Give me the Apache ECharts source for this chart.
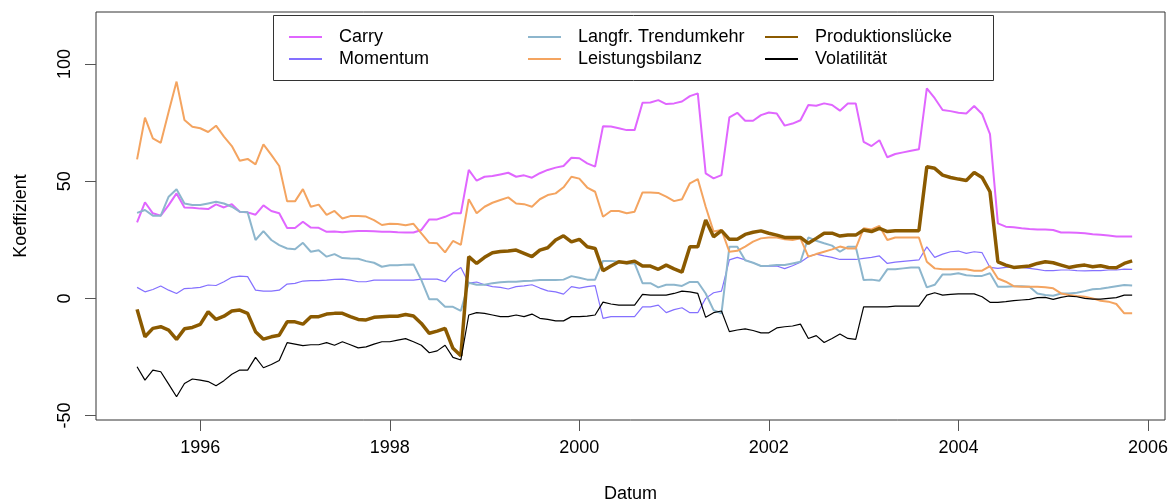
<!DOCTYPE html>
<html>
<head>
<meta charset="utf-8">
<script src="https://cdn.jsdelivr.net/npm/echarts@6/dist/echarts.min.js"></script>
<style>
  html, body { margin: 0; padding: 0; background: #fff; }
  #chart { width: 1168px; height: 504px; }
</style>
</head>
<body>
<div id="chart"></div>
<script>
// monthly series, May 1995 .. Nov 2005
var startYear = 1995, startMonth = 5;

var carry = [32.4, 41.0, 36.3, 35.3, 39.8, 44.8, 38.8, 38.7, 38.3, 38.1, 40.1, 38.8, 40.2, 37.0, 36.7, 35.7, 39.7, 37.3, 36.3, 30.0,
  30.0, 32.7, 30.2, 30.1, 28.4, 28.5, 28.2, 28.5, 28.8, 28.8, 28.6, 28.4, 28.4, 28.2, 28.1, 28.1, 29.2, 33.7, 33.7, 34.8,
  36.3, 36.3, 54.8, 50.2, 51.9, 52.2, 52.9, 53.6, 51.9, 52.5, 51.5, 53.4, 54.8, 55.8, 56.5, 60.0, 59.8, 57.6, 56.2, 73.5,
  73.3, 72.6, 71.8, 71.8, 83.5, 83.6, 84.6, 82.9, 83.2, 84.0, 86.3, 87.5, 53.3, 51.2, 52.6, 77.2, 79.2, 75.8, 75.8, 78.2,
  79.3, 78.9, 73.7, 74.6, 76.0, 82.5, 82.2, 83.2, 82.5, 80.1, 83.2, 83.2, 66.8, 65.0, 67.5, 60.2, 61.6, 62.3, 63.0, 63.6,
  89.6, 85.4, 80.4, 79.9, 79.2, 78.9, 82.1, 78.7, 70.1, 32.0, 30.6, 30.3, 29.9, 29.6, 29.4, 29.4, 29.2, 28.1, 28.1, 28.0,
  27.8, 27.4, 27.1, 26.8, 26.4, 26.4, 26.4];

var momentum = [4.7, 2.8, 3.8, 5.3, 3.5, 2.1, 4.2, 4.4, 4.7, 5.7, 5.5, 7.1, 9.0, 9.5, 9.3, 3.5, 3.1, 3.1, 3.5, 6.1,
  6.4, 7.4, 7.6, 7.6, 7.8, 8.1, 8.2, 7.8, 7.1, 7.1, 7.8, 7.8, 7.8, 7.8, 7.8, 7.8, 8.2, 8.2, 8.2, 7.1,
  10.9, 13.2, 6.5, 7.0, 5.8, 5.0, 4.7, 4.0, 5.0, 5.3, 5.8, 4.4, 3.2, 2.8, 1.8, 5.0, 4.4, 5.0, 5.4, -8.5,
  -7.8, -7.8, -7.8, -7.8, -3.6, -3.6, -2.9, -6.1, -4.8, -4.0, -6.1, -6.1, 0.0, 2.4, 3.1, 16.4, 17.5, 16.4, 15.2, 13.8,
  13.8, 13.8, 12.7, 13.9, 15.4, 17.8, 18.9, 18.1, 17.5, 16.6, 16.6, 16.6, 17.1, 17.5, 18.1, 14.9, 15.5, 15.8, 16.1, 16.4,
  22.0, 17.5, 18.9, 19.9, 20.2, 19.2, 19.9, 19.5, 13.2, 12.8, 13.2, 13.5, 13.2, 12.8, 12.4, 11.8, 11.8, 12.1, 12.1, 11.8,
  11.7, 11.8, 11.8, 12.1, 12.1, 12.5, 12.4];

var trendumkehr = [36.5, 37.7, 35.3, 35.3, 43.4, 46.6, 40.5, 39.8, 39.8, 40.5, 41.2, 40.5, 39.1, 37.0, 36.7, 24.9, 28.7, 24.9, 22.7, 21.3,
  21.0, 23.7, 19.9, 20.5, 17.8, 18.9, 17.2, 17.0, 16.9, 15.9, 15.2, 13.5, 14.1, 14.1, 14.4, 14.5, 7.8, -0.4, -0.4, -3.6,
  -3.6, -5.3, 6.7, 5.8, 5.8, 6.5, 6.9, 7.1, 7.1, 7.4, 7.5, 7.8, 7.8, 7.8, 8.0, 9.5, 8.8, 8.0, 8.0, 16.0,
  16.0, 15.6, 14.9, 14.9, 6.5, 6.5, 4.7, 5.8, 5.8, 5.3, 7.0, 7.0, 2.1, -5.0, -6.4, 22.0, 22.0, 16.3, 15.2, 13.8,
  13.9, 14.2, 14.2, 14.9, 15.6, 26.0, 24.6, 23.5, 22.5, 19.9, 22.0, 22.0, 7.8, 8.0, 7.5, 12.4, 12.4, 12.8, 13.2, 13.2,
  4.7, 5.8, 10.2, 10.2, 10.7, 9.9, 9.6, 9.6, 10.7, 5.0, 5.0, 5.2, 5.2, 5.0, 2.1, 1.4, 1.1, 2.1, 2.1, 2.4,
  3.1, 3.9, 4.1, 4.6, 5.2, 5.7, 5.5];

var leistungsbilanz = [59.3, 77.1, 68.3, 66.4, 79.6, 92.5, 76.1, 73.2, 72.6, 71.0, 73.7, 69.0, 65.0, 58.7, 59.5, 57.2, 65.7, 61.2, 56.5, 41.4,
  41.4, 46.6, 39.1, 40.0, 35.6, 37.3, 34.1, 35.1, 35.2, 34.9, 33.4, 31.3, 31.8, 31.7, 31.2, 31.8, 27.7, 23.7, 23.5, 19.6,
  24.5, 22.8, 42.3, 36.3, 39.1, 40.8, 42.0, 43.1, 40.5, 40.2, 39.1, 42.3, 44.1, 44.8, 47.4, 51.9, 51.1, 47.3, 45.5, 34.8,
  37.3, 37.3, 36.3, 37.0, 45.2, 45.2, 45.0, 43.4, 41.5, 42.3, 49.1, 50.9, 39.1, 28.5, 29.2, 19.9, 20.3, 22.1, 24.2, 25.6,
  26.0, 26.0, 25.2, 24.9, 25.6, 17.8, 18.9, 19.9, 20.9, 22.1, 21.3, 21.3, 29.9, 29.4, 30.9, 24.9, 26.0, 26.0, 26.0, 26.0,
  15.6, 12.8, 12.4, 12.4, 12.4, 12.4, 11.8, 11.8, 13.8, 8.5, 7.1, 5.2, 5.0, 5.0, 5.0, 4.7, 4.3, 2.1, 1.4, 1.0,
  0.7, 0.0, -1.0, -1.4, -2.4, -6.4, -6.4];

var produktionsluecke = [-4.7, -16.4, -12.8, -12.1, -13.5, -17.5, -13.0, -12.4, -11.1, -5.7, -9.0, -7.6, -5.4, -5.0, -6.4, -14.2, -17.4, -16.4, -15.7, -10.0,
  -10.0, -11.0, -7.8, -7.8, -6.7, -6.4, -6.4, -7.8, -9.0, -9.2, -8.1, -7.8, -7.6, -7.6, -6.9, -7.5, -10.7, -14.9, -14.0, -12.8,
  -21.3, -24.5, 17.8, 14.9, 17.5, 19.5, 20.0, 20.2, 20.6, 19.2, 17.8, 20.6, 21.6, 24.9, 26.7, 24.1, 25.2, 22.0, 21.3, 11.8,
  13.8, 15.6, 15.2, 15.9, 13.8, 13.8, 12.4, 14.2, 12.6, 11.2, 22.0, 22.0, 33.4, 26.3, 28.9, 25.2, 25.2, 27.3, 28.2, 28.8,
  27.8, 27.0, 26.0, 26.0, 26.0, 23.5, 25.6, 27.8, 27.8, 26.6, 27.0, 27.0, 29.2, 28.5, 29.9, 28.5, 28.9, 28.9, 28.9, 28.9,
  56.2, 55.5, 52.6, 51.6, 50.9, 50.3, 53.7, 51.6, 45.5, 15.6, 14.2, 13.2, 13.5, 13.8, 14.9, 15.6, 15.2, 14.2, 13.2, 13.8,
  14.2, 13.5, 13.9, 13.2, 13.1, 14.9, 16.0];

var volatilitaet = [-29.2, -34.9, -30.6, -31.3, -36.6, -42.0, -36.3, -34.4, -34.9, -35.5, -37.3, -35.1, -32.4, -30.6, -30.6, -25.2, -29.6, -28.2, -26.5, -18.9,
  -19.5, -20.2, -19.8, -19.8, -18.9, -20.0, -18.5, -19.8, -21.1, -20.7, -19.5, -18.5, -18.5, -17.8, -17.2, -18.5, -20.0, -23.2, -22.4, -20.0,
  -25.2, -26.3, -7.1, -6.1, -6.4, -7.1, -7.8, -7.8, -7.1, -7.8, -6.7, -8.5, -9.0, -9.6, -9.6, -7.8, -7.8, -7.6, -7.1, -1.6,
  -2.4, -2.9, -2.9, -2.9, 1.7, 1.4, 1.4, 1.4, 2.1, 3.1, 2.8, 2.1, -8.1, -6.1, -5.4, -14.2, -13.5, -13.0, -13.7, -14.7,
  -14.7, -12.6, -12.1, -11.8, -11.0, -17.1, -15.9, -18.8, -17.1, -15.2, -17.1, -17.5, -3.6, -3.6, -3.6, -3.6, -3.3, -3.3, -3.3, -3.3,
  1.4, 2.4, 1.4, 1.7, 1.9, 1.9, 1.9, 0.7, -1.7, -1.7, -1.4, -1.0, -0.7, -0.4, 0.3, 0.4, -0.4, 0.4, 1.0, 0.7,
  0.0, -0.3, -0.3, 0.0, 0.3, 1.4, 1.4];

var xTicks = [1996, 1998, 2000, 2002, 2004, 2006];
var yTicks = [-50, 0, 50, 100];

var names = ['Carry', 'Momentum', 'Langfr. Trendumkehr', 'Leistungsbilanz', 'Produktionslücke', 'Volatilität'];
var colors = ['#E066FF', '#8470FF', '#8DB6CD', '#F4A460', '#8B5A00', '#000000'];
var widths = [2, 1.2, 2, 2, 3.5, 1.2];
var values = [carry, momentum, trendumkehr, leistungsbilanz, produktionsluecke, volatilitaet];

// decimal year for each month
var dates = [];
for (var i = 0; i < carry.length; i++) {
    dates.push(startYear + (startMonth - 1 + i) / 12);
}

var font = 'Liberation Sans, Arial, sans-serif';

var chart = echarts.init(document.getElementById('chart'));

var series = values.map(function(vals, k) {
    return {
        name: names[k],
        type: 'line',
        showSymbol: false,
        symbol: 'none',
        color: colors[k],
        lineStyle: { color: colors[k], width: widths[k] },
        data: vals.map(function(v, i) { return [dates[i], v]; })
    };
});

function legendCol(left, items) {
    return {
        orient: 'vertical',
        left: left,
        top: 28,
        padding: 0,
        itemGap: 4,
        itemWidth: 33,
        itemHeight: 2,
        icon: 'rect',
        data: items,
        textStyle: {
            fontFamily: font,
            fontSize: 18,
            color: '#000',
            lineHeight: 18,
            padding: [0, 0, 0, 12]
        }
    };
}

chart.setOption({
    animation: false,
    backgroundColor: '#fff',
    grid: {
        left: 96,
        right: 3,
        top: 12,
        bottom: 84,
        outerBoundsMode: 'none',
        show: true,
        borderColor: '#333',
        borderWidth: 1
    },
    legend: [
        legendCol(289, ['Carry', 'Momentum']),
        legendCol(528, ['Langfr. Trendumkehr', 'Leistungsbilanz']),
        legendCol(765, ['Produktionslücke', 'Volatilität'])
    ],
    graphic: [{
        type: 'rect',
        z: 3,
        shape: { x: 273.5, y: 15.5, width: 720, height: 65 },
        style: { fill: '#fff', stroke: '#333', lineWidth: 1 }
    }],
    xAxis: {
        type: 'value',
        min: 1994.9,
        max: 2006.18,
        name: 'Datum',
        nameLocation: 'middle',
        nameGap: 65,
        nameTextStyle: { fontFamily: font, fontSize: 18, color: '#000' },
        axisLine: { show: false, onZero: false },
        axisTick: { show: true, length: 11, lineStyle: { color: '#555' }, customValues: xTicks },
        axisLabel: {
            fontFamily: font, fontSize: 18, color: '#000', margin: 19,
            customValues: xTicks,
            formatter: function(v) { return String(v); }
        },
        splitLine: { show: false }
    },
    yAxis: {
        type: 'value',
        min: -51.9,
        max: 122.2,
        name: 'Koeffizient',
        nameLocation: 'middle',
        nameGap: 66,
        nameRotate: 90,
        nameTextStyle: { fontFamily: font, fontSize: 18, color: '#000' },
        axisLine: { show: false, onZero: false },
        axisTick: { show: true, length: 11, lineStyle: { color: '#555' }, customValues: yTicks },
        axisLabel: {
            fontFamily: font, fontSize: 18, color: '#000', margin: 22, rotate: 90,
            customValues: yTicks,
            formatter: function(v) { return String(v); }
        },
        splitLine: { show: false }
    },
    series: series
});
</script>
</body>
</html>
